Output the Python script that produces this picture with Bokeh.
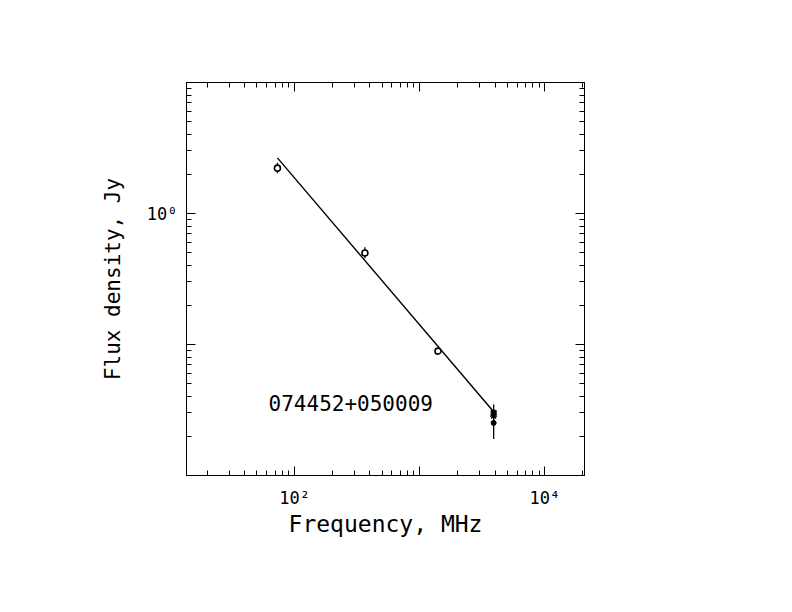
from bokeh.plotting import figure
from bokeh.models import FixedTicker, CustomJSTickFormatter, LogAxis, Label
from bokeh.embed import file_html
from bokeh.resources import INLINE

# ---------------- data ----------------
source_name = "074452+050009"

# open-circle measurements
freq_open = [73, 365, 1400]
flux_open = [2.22, 0.50, 0.089]
flux_open_lo = [2.03, 0.456, 0.086]
flux_open_hi = [2.44, 0.553, 0.092]

# measurements at 3.9 GHz
freq_sq = [3900]
flux_sq = [0.0301]
freq_star = [3900]
flux_star = [0.0284]
freq_dot = [3900]
flux_dot = [0.0252]
flux_dot_lo = [0.0190]
flux_dot_hi = [0.0348]

# power-law fit endpoints
fit_freq = [73, 3900]
fit_flux = [2.66, 0.0307]

# ticks
x_major = [10, 100, 1000, 10000]
x_label_vals = [100, 10000]
x_label_text = ["10\u00b2", "10\u2074"]
y_major = [0.01, 0.1, 1, 10]
y_label_vals = [1]
y_label_text = ["10\u2070"]

x_minor = [m * d for d in [10, 100, 1000, 10000] for m in range(2, 10)]
y_minor = [m * d for d in [0.01, 0.1, 1] for m in range(2, 10)]

FONT = "DejaVu Sans Mono"

p = figure(width=776, height=596, x_axis_type="log", y_axis_type="log",
           x_range=(13.7, 20750), y_range=(0.01, 10),
           output_backend="svg", toolbar_location=None,
           min_border_left=186, min_border_right=192,
           min_border_top=82, min_border_bottom=121)
p.grid.visible = False
p.outline_line_color = "black"
p.outline_line_width = 1
p.background_fill_color = "white"
p.border_fill_color = "white"

fmt_code = """
for (let i = 0; i < vals.length; i++) {
  if (Math.abs(Math.log10(tick) - Math.log10(vals[i])) < 1e-6) return labels[i];
}
return "";
"""
blank = CustomJSTickFormatter(code="return '';")


def style_axis(ax):
    ax.major_tick_in = 9
    ax.major_tick_out = 0
    ax.minor_tick_in = 5
    ax.minor_tick_out = 0
    ax.axis_line_color = "black"
    ax.major_tick_line_color = "black"
    ax.minor_tick_line_color = "black"
    ax.major_label_text_font = FONT
    ax.major_label_text_font_size = "17px"
    ax.major_label_text_color = "black"
    ax.axis_label_text_font = FONT
    ax.axis_label_text_font_style = "normal"
    ax.axis_label_text_font_size = "21px"
    ax.axis_label_text_color = "black"


xb = p.xaxis[0]
style_axis(xb)
xb.ticker = FixedTicker(ticks=x_major, minor_ticks=x_minor)
xb.formatter = CustomJSTickFormatter(args=dict(vals=x_label_vals, labels=x_label_text), code=fmt_code)
xb.major_label_standoff = 12
xb.axis_label = "Frequency, MHz"
xb.axis_label_text_font_size = "23px"
xb.axis_label_standoff = 0

yl = p.yaxis[0]
style_axis(yl)
yl.ticker = FixedTicker(ticks=y_major, minor_ticks=y_minor)
yl.formatter = CustomJSTickFormatter(args=dict(vals=y_label_vals, labels=y_label_text), code=fmt_code)
yl.major_label_standoff = 9
yl.major_label_orientation = "horizontal"
yl.axis_label = "Flux density, Jy"
yl.axis_label_standoff = 19

top = LogAxis(ticker=FixedTicker(ticks=x_major, minor_ticks=x_minor), formatter=blank)
style_axis(top)
p.add_layout(top, "above")
right = LogAxis(ticker=FixedTicker(ticks=y_major, minor_ticks=y_minor), formatter=blank)
style_axis(right)
p.add_layout(right, "right")

# fit line
p.line(fit_freq, fit_flux, line_color="black", line_width=1.4)

# error bars
p.segment(x0=freq_open, x1=freq_open, y0=flux_open_lo, y1=flux_open_hi,
          line_color="black", line_width=1.3)
p.segment(x0=freq_dot, x1=freq_dot, y0=flux_dot_lo, y1=flux_dot_hi,
          line_color="black", line_width=1.3)

# markers
p.scatter(freq_open, flux_open, marker="circle", size=6, fill_color="white",
          line_color="black", line_width=1.6)
p.scatter(freq_sq, flux_sq, marker="square", size=5, fill_color="black", line_color="black")
p.scatter(freq_star, flux_star, marker="asterisk", size=7, line_color="black", line_width=1.4)
p.scatter(freq_dot, flux_dot, marker="circle", size=5, fill_color="black", line_color="black")

# source name label
p.add_layout(Label(x=62, y=0.036, text=source_name, text_font=FONT,
                   text_font_size="21px", text_color="black",
                   text_baseline="middle", text_align="left"))

open("out.html", "w").write(file_html(p, INLINE))
